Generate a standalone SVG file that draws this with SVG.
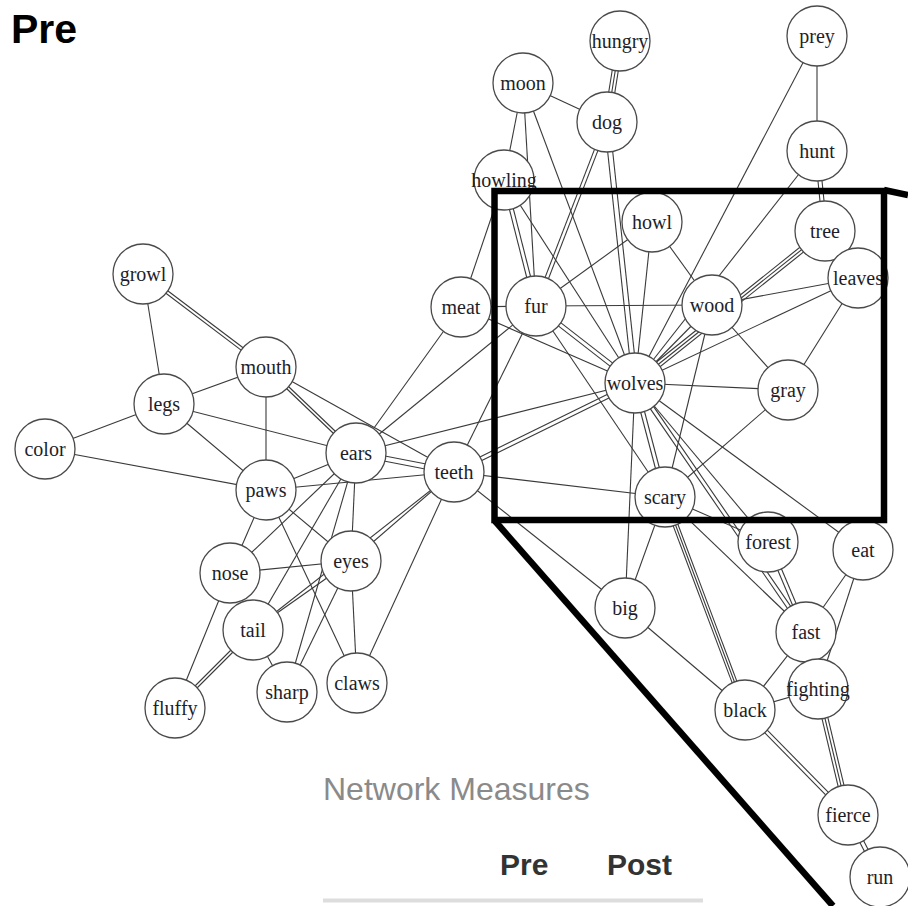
<svg xmlns="http://www.w3.org/2000/svg" width="908" height="906" viewBox="0 0 908 906">
<style>
.e line{stroke:#3a3a3a;stroke-width:1.1;fill:none}
.n circle{fill:#fff;stroke:#4a4a4a;stroke-width:1.3}
.n text{font-family:"Liberation Serif","Times New Roman",serif;font-size:20px;fill:#1e1e2a;text-anchor:middle}
.frame{fill:none;stroke:#000;stroke-width:6.5}
</style>
<rect width="908" height="906" fill="#fff"/>
<g id="connectors" class="e">
<line x1="142.1" y1="275.2" x2="265.1" y2="368.2"/><line x1="143.9" y1="272.8" x2="266.9" y2="365.8"/>
<line x1="143" y1="274" x2="164" y2="404"/>
<line x1="266" y1="367" x2="164" y2="404"/>
<line x1="266" y1="367" x2="266" y2="490"/>
<line x1="265" y1="368" x2="355" y2="454"/><line x1="267" y1="366" x2="357" y2="452"/>
<line x1="266" y1="367" x2="454" y2="472"/>
<line x1="164" y1="404" x2="45" y2="449"/>
<line x1="164" y1="404" x2="266" y2="490"/>
<line x1="164" y1="404" x2="356" y2="453"/>
<line x1="45" y1="449" x2="266" y2="490"/>
<line x1="266" y1="490" x2="356" y2="453"/>
<line x1="266" y1="490" x2="454" y2="472"/>
<line x1="266" y1="490" x2="230" y2="573"/>
<line x1="266" y1="490" x2="351" y2="561"/>
<line x1="266" y1="490" x2="357" y2="683"/>
<line x1="356" y1="453" x2="230" y2="573"/>
<line x1="356" y1="453" x2="253" y2="630"/>
<line x1="356" y1="453" x2="287" y2="692"/>
<line x1="356" y1="453" x2="351" y2="561"/>
<line x1="355.5" y1="455.5" x2="453.5" y2="474.5"/><line x1="356.5" y1="450.5" x2="454.5" y2="469.5"/>
<line x1="356" y1="453" x2="461" y2="307"/>
<line x1="356" y1="453" x2="536" y2="306"/>
<line x1="356" y1="453" x2="635" y2="383"/>
<line x1="230" y1="573" x2="351" y2="561"/>
<line x1="230" y1="573" x2="175" y2="708"/>
<line x1="252" y1="629" x2="174" y2="707"/><line x1="254" y1="631" x2="176" y2="709"/>
<line x1="253" y1="630" x2="287" y2="692"/>
<line x1="351" y1="561" x2="253" y2="630"/>
<line x1="454" y1="472" x2="253" y2="630"/>
<line x1="287" y1="692" x2="351" y2="561"/>
<line x1="351" y1="561" x2="357" y2="683"/>
<line x1="454" y1="472" x2="351" y2="561"/>
<line x1="454" y1="472" x2="357" y2="683"/>
<line x1="454" y1="472" x2="536" y2="306"/>
<line x1="454.9" y1="473.8" x2="635.9" y2="384.8"/><line x1="453.1" y1="470.2" x2="634.1" y2="381.2"/>
<line x1="454" y1="472" x2="665" y2="497"/>
<line x1="454" y1="472" x2="625" y2="608"/>
<line x1="461" y1="307" x2="504" y2="180"/>
<line x1="461" y1="307" x2="536" y2="306"/>
<line x1="461" y1="307" x2="635" y2="383"/>
<line x1="617" y1="40.5" x2="604" y2="121.5"/><line x1="620" y1="41" x2="607" y2="122"/><line x1="623" y1="41.5" x2="610" y2="122.5"/>
<line x1="523" y1="83" x2="607" y2="122"/>
<line x1="523" y1="83" x2="504" y2="180"/>
<line x1="523" y1="83" x2="536" y2="306"/>
<line x1="523" y1="83" x2="635" y2="383"/>
<line x1="605.3" y1="121.4" x2="534.3" y2="305.4"/><line x1="608.7" y1="122.6" x2="537.7" y2="306.6"/>
<line x1="604.5" y1="122.3" x2="632.5" y2="383.3"/><line x1="609.5" y1="121.7" x2="637.5" y2="382.7"/>
<line x1="502.1" y1="180.5" x2="534.1" y2="306.5"/><line x1="505.9" y1="179.5" x2="537.9" y2="305.5"/>
<line x1="504" y1="180" x2="635" y2="383"/>
<line x1="536" y1="306" x2="712" y2="305"/>
<line x1="536" y1="306" x2="652" y2="222"/>
<line x1="534.8" y1="307.6" x2="633.8" y2="384.6"/><line x1="537.2" y1="304.4" x2="636.2" y2="381.4"/>
<line x1="536" y1="306" x2="665" y2="497"/>
<line x1="652" y1="222" x2="712" y2="305"/>
<line x1="652" y1="222" x2="635" y2="383"/>
<line x1="817" y1="36" x2="817" y2="151"/>
<line x1="817" y1="36" x2="635" y2="383"/>
<line x1="815" y1="151.2" x2="823" y2="231.2"/><line x1="819" y1="150.8" x2="827" y2="230.8"/>
<line x1="817" y1="151" x2="635" y2="383"/>
<line x1="823.1" y1="228.7" x2="633.1" y2="380.7"/><line x1="825" y1="231" x2="635" y2="383"/><line x1="826.9" y1="233.3" x2="636.9" y2="385.3"/>
<line x1="858" y1="278" x2="712" y2="305"/>
<line x1="858" y1="278" x2="635" y2="383"/>
<line x1="858" y1="278" x2="788" y2="390"/>
<line x1="712" y1="305" x2="788" y2="390"/>
<line x1="712" y1="305" x2="635" y2="383"/>
<line x1="712" y1="305" x2="665" y2="497"/>
<line x1="635" y1="383" x2="788" y2="390"/>
<line x1="633.1" y1="383.5" x2="663.1" y2="497.5"/><line x1="636.9" y1="382.5" x2="666.9" y2="496.5"/>
<line x1="635" y1="383" x2="625" y2="608"/>
<line x1="635" y1="383" x2="768" y2="542"/>
<line x1="633.4" y1="384.1" x2="804.4" y2="633.1"/><line x1="636.6" y1="381.9" x2="807.6" y2="630.9"/>
<line x1="635" y1="383" x2="863" y2="550"/>
<line x1="788" y1="390" x2="665" y2="497"/>
<line x1="665" y1="497" x2="625" y2="608"/>
<line x1="662.7" y1="497.9" x2="742.7" y2="710.9"/><line x1="665" y1="497" x2="745" y2="710"/><line x1="667.3" y1="496.1" x2="747.3" y2="709.1"/>
<line x1="665" y1="497" x2="806" y2="632"/>
<line x1="665" y1="497" x2="768" y2="542"/>
<line x1="766.2" y1="542.8" x2="804.2" y2="632.8"/><line x1="769.8" y1="541.2" x2="807.8" y2="631.2"/>
<line x1="863" y1="550" x2="806" y2="632"/>
<line x1="863" y1="550" x2="818" y2="689"/>
<line x1="625" y1="608" x2="745" y2="710"/>
<line x1="745" y1="710" x2="806" y2="632"/>
<line x1="745" y1="710" x2="818" y2="689"/>
<line x1="806" y1="632" x2="818" y2="689"/>
<line x1="815.1" y1="689.7" x2="845.1" y2="815.7"/><line x1="818" y1="689" x2="848" y2="815"/><line x1="820.9" y1="688.3" x2="850.9" y2="814.3"/>
<line x1="743.7" y1="711.3" x2="846.7" y2="816.3"/><line x1="746.3" y1="708.7" x2="849.3" y2="813.7"/>
<line x1="846.2" y1="815.9" x2="878.2" y2="877.9"/><line x1="849.8" y1="814.1" x2="881.8" y2="876.1"/>
</g>
<g id="node-hungry" class="n"><circle cx="620" cy="41" r="30"/><text x="620" y="48">hungry</text></g>
<g id="node-prey" class="n"><circle cx="817" cy="36" r="30"/><text x="817" y="43">prey</text></g>
<g id="node-moon" class="n"><circle cx="523" cy="83" r="30"/><text x="523" y="90">moon</text></g>
<g id="node-dog" class="n"><circle cx="607" cy="122" r="30"/><text x="607" y="129">dog</text></g>
<g id="node-hunt" class="n"><circle cx="817" cy="151" r="30"/><text x="817" y="158">hunt</text></g>
<g id="node-howling" class="n"><circle cx="504" cy="180" r="30"/><text x="504" y="187">howling</text></g>
<g id="node-howl" class="n"><circle cx="652" cy="222" r="30"/><text x="652" y="229">howl</text></g>
<g id="node-tree" class="n"><circle cx="825" cy="231" r="30"/><text x="825" y="238">tree</text></g>
<g id="node-growl" class="n"><circle cx="143" cy="274" r="30"/><text x="143" y="281">growl</text></g>
<g id="node-leaves" class="n"><circle cx="858" cy="278" r="30"/><text x="858" y="285">leaves</text></g>
<g id="node-meat" class="n"><circle cx="461" cy="307" r="30"/><text x="461" y="314">meat</text></g>
<g id="node-fur" class="n"><circle cx="536" cy="306" r="30"/><text x="536" y="313">fur</text></g>
<g id="node-wood" class="n"><circle cx="712" cy="305" r="30"/><text x="712" y="312">wood</text></g>
<g id="node-mouth" class="n"><circle cx="266" cy="367" r="30"/><text x="266" y="374">mouth</text></g>
<g id="node-legs" class="n"><circle cx="164" cy="404" r="30"/><text x="164" y="411">legs</text></g>
<g id="node-wolves" class="n"><circle cx="635" cy="383" r="30"/><text x="635" y="390">wolves</text></g>
<g id="node-gray" class="n"><circle cx="788" cy="390" r="30"/><text x="788" y="397">gray</text></g>
<g id="node-color" class="n"><circle cx="45" cy="449" r="30"/><text x="45" y="456">color</text></g>
<g id="node-ears" class="n"><circle cx="356" cy="453" r="30"/><text x="356" y="460">ears</text></g>
<g id="node-teeth" class="n"><circle cx="454" cy="472" r="30"/><text x="454" y="479">teeth</text></g>
<g id="node-paws" class="n"><circle cx="266" cy="490" r="30"/><text x="266" y="497">paws</text></g>
<g id="node-scary" class="n"><circle cx="665" cy="497" r="30"/><text x="665" y="504">scary</text></g>
<g id="node-forest" class="n"><circle cx="768" cy="542" r="30"/><text x="768" y="549">forest</text></g>
<g id="node-eat" class="n"><circle cx="863" cy="550" r="30"/><text x="863" y="557">eat</text></g>
<g id="node-nose" class="n"><circle cx="230" cy="573" r="30"/><text x="230" y="580">nose</text></g>
<g id="node-eyes" class="n"><circle cx="351" cy="561" r="30"/><text x="351" y="568">eyes</text></g>
<g id="node-big" class="n"><circle cx="625" cy="608" r="30"/><text x="625" y="615">big</text></g>
<g id="node-tail" class="n"><circle cx="253" cy="630" r="30"/><text x="253" y="637">tail</text></g>
<g id="node-fast" class="n"><circle cx="806" cy="632" r="30"/><text x="806" y="639">fast</text></g>
<g id="node-claws" class="n"><circle cx="357" cy="683" r="30"/><text x="357" y="690">claws</text></g>
<g id="node-sharp" class="n"><circle cx="287" cy="692" r="30"/><text x="287" y="699">sharp</text></g>
<g id="node-fluffy" class="n"><circle cx="175" cy="708" r="30"/><text x="175" y="715">fluffy</text></g>
<g id="node-fighting" class="n"><circle cx="818" cy="689" r="30"/><text x="818" y="696">fighting</text></g>
<g id="node-black" class="n"><circle cx="745" cy="710" r="30"/><text x="745" y="717">black</text></g>
<g id="node-fierce" class="n"><circle cx="848" cy="815" r="30"/><text x="848" y="822">fierce</text></g>
<g id="node-run" class="n"><circle cx="880" cy="877" r="30"/><text x="880" y="884">run</text></g>
<g id="zoom-frame">
<rect class="frame" x="494.5" y="191" width="389.5" height="329"/>
<line class="frame" x1="884" y1="190" x2="908" y2="195"/>
<line class="frame" x1="495" y1="521" x2="833" y2="906"/>
</g>
<text x="11" y="43" font-family="'Liberation Sans',Arial,sans-serif" font-weight="bold" font-size="41" fill="#000">Pre</text>
<text x="323" y="800" font-family="'Liberation Sans',Arial,sans-serif" font-size="32" fill="#8a8a8a">Network Measures</text>
<text x="500" y="875" font-family="'Liberation Sans',Arial,sans-serif" font-weight="bold" font-size="30" fill="#333">Pre</text>
<text x="607" y="875" font-family="'Liberation Sans',Arial,sans-serif" font-weight="bold" font-size="30" fill="#333">Post</text>
<line x1="323" y1="900.5" x2="703" y2="900.5" stroke="#dddddd" stroke-width="4"/>
</svg>
